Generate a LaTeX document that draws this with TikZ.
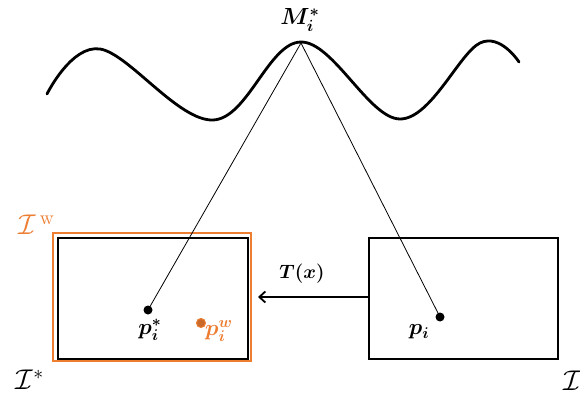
\documentclass[tikz,border=0pt]{standalone}
\usepackage{amsmath,amssymb,bm,graphicx}
\usetikzlibrary{arrows.meta}
\definecolor{orng}{RGB}{237,125,49}
\newcommand{\bigtxt}[2]{\scalebox{#1}{\fontsize{17}{18}\selectfont #2}}
\begin{document}
\begin{tikzpicture}[x=1pt,y=-1pt,
  imgbox/.style={draw=black,line width=2pt},
  dot/.style={circle,fill=black,inner sep=0pt,minimum size=9pt},
  ray/.style={line width=0.8pt},
  lbl/.style={inner sep=0pt}]
\useasboundingbox (0,0) rectangle (580,398);
% wave
\draw[line width=2.8pt,line cap=round] plot[smooth,tension=0.62] coordinates
 {(47,94) (100,49) (213,120) (301,42) (400,119) (480,43) (519,62)};
\coordinate (M) at (301,43);
\node[lbl] (Mlbl) at (300,20) {\bigtxt{1.35}{$\boldsymbol{M_i^*}$}};
% left boxes
\draw[draw=orng,line width=2pt] (53,233) rectangle (251,361);
\node[imgbox,minimum width=190pt,minimum height=121pt,inner sep=0pt,anchor=north west] (L) at (57,237) {};
\node[dot] (ps) at (148,310) {};
\node[lbl] (psl) at (150,330) {\bigtxt{1.3}{$\boldsymbol{p_i^*}$}};
\node[circle,draw=orng,fill=orng!85!black,line width=1pt,inner sep=0pt,minimum width=9pt,minimum height=7pt] (pw) at (201,323) {};
\node[lbl,text=orng] (pwl) at (219,331) {\bigtxt{1.3}{$\boldsymbol{p_i^w}$}};
\node[lbl,text=orng] (Iw) at (37,225) {\bigtxt{1.65}{$\mathcal{I}^{\,\mathrm{w}}$}};
\node[lbl] (Is) at (30,380) {\bigtxt{1.65}{$\mathcal{I}^{*}$}};
% right box
\node[imgbox,minimum width=189pt,minimum height=121pt,inner sep=0pt,anchor=north west] (R) at (368,237) {};
\node[dot] (p) at (440,317) {};
\node[lbl] (pl) at (419,332) {\bigtxt{1.3}{$\boldsymbol{p_i}$}};
\node[lbl,anchor=west] (I) at (563,381) {\bigtxt{1.65}{$\mathcal{I}$}};
% rays
\draw[ray] (M) -- (ps.center);
\draw[ray] (M) -- (p.center);
% transform arrow
\draw[line width=1.8pt,-{Straight Barb[length=6pt,width=11pt]}] (R.west |- 0,297) -- (258,297) coordinate (Ta);
\node[lbl] (T) at (302,274) {\bigtxt{1.12}{$\boldsymbol{T(x)}$}};
\end{tikzpicture}
\end{document}
